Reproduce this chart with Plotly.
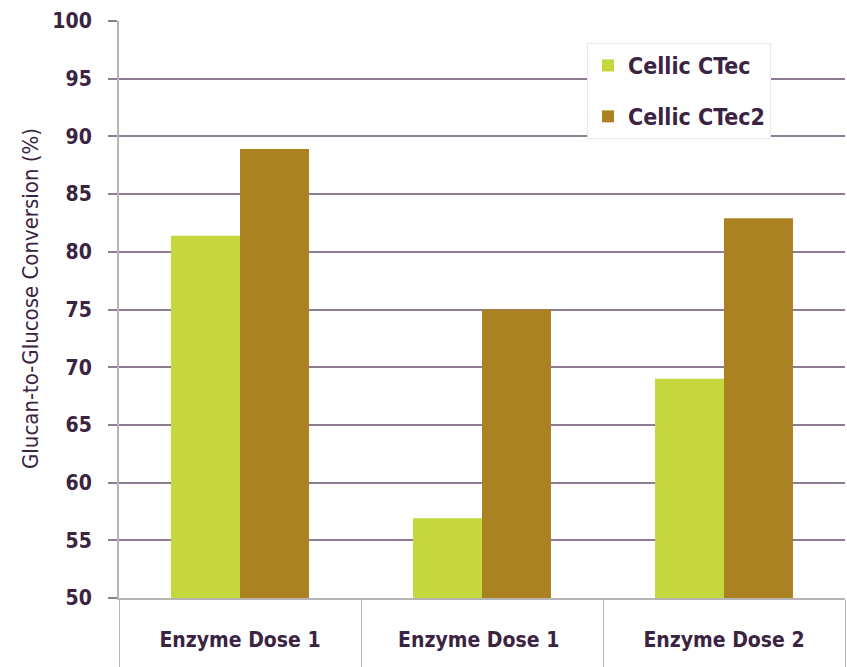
import plotly.graph_objects as go

categories = ["Enzyme Dose 1", "Enzyme Dose 1 ", "Enzyme Dose 2"]
ctec = [81.4, 56.9, 69.0]
ctec2 = [88.9, 75.0, 82.9]
series_names = ["Cellic CTec", "Cellic CTec2"]
y_ticks = [50, 55, 60, 65, 70, 75, 80, 85, 90, 95, 100]
y_title = "Glucan-to-Glucose Conversion (%)"

FONT = "DejaVu Sans Condensed, Liberation Sans Narrow, Liberation Sans, Arial"
TXT = "#3b2342"
GRID = "#8c7d93"

W, H = 847, 667
L, R, T, B = 119, 2, 21, 69
PW, PH = W - L - R, H - T - B

fig = go.Figure()
fig.add_bar(x=categories, y=ctec, name=series_names[0], marker_color="#c4d83e",
            marker_line_width=0, legendgroup="a")
fig.add_bar(x=categories, y=ctec2, name=series_names[1], marker_color="#aa8222",
            marker_line_width=0, legendgroup="b")

fig.update_layout(
    width=W, height=H,
    margin=dict(l=L, r=R, t=T, b=B, autoexpand=False),
    paper_bgcolor="white", plot_bgcolor="white",
    barmode="group", bargap=0.43, bargroupgap=0,
    font=dict(family=FONT, color=TXT),
    showlegend=True,
    legend=dict(
        x=(587 - L) / PW, y=1 - (43 - T) / PH, xanchor="left", yanchor="top",
        bgcolor="white", bordercolor="#e8e8e8", borderwidth=1,
        font=dict(family=FONT, size=23, color=TXT, weight="bold"),
        tracegroupgap=18, itemwidth=30,
    ),
)
fig.add_annotation(
    text=y_title, textangle=-90, showarrow=False,
    xref="paper", yref="paper", x=(31 - L) / PW, y=1 - (299 - T) / PH,
    xanchor="center", yanchor="middle",
    font=dict(family="DejaVu Sans Condensed, Liberation Sans, Arial", size=22, color=TXT),
)
fig.update_xaxes(
    type="category", automargin=False,
    tickson="boundaries", ticks="outside", ticklen=69, tickcolor="#b5b5b5", tickwidth=1,
    showline=True, linecolor="#b5b5b5", linewidth=2,
    tickfont=dict(family=FONT, size=21, color=TXT, weight="bold"),
    ticklabelstandoff=22,
    showgrid=False,
)
fig.update_yaxes(
    range=[50, 100], tickvals=y_ticks, automargin=False,
    showgrid=True, gridcolor=GRID, gridwidth=1.5,
    showline=True, linecolor="#b5b5b5", linewidth=2,
    ticks="outside", ticklen=9, tickcolor=GRID, tickwidth=1.5,
    tickfont=dict(family=FONT, size=21, color=TXT, weight="bold"),
    ticklabelstandoff=12,
    zeroline=False,
)
fig.write_html(
    "out.html",
    config={"displayModeBar": False},
    post_script="document.body.style.margin='0';document.body.style.overflow='hidden';",
)
